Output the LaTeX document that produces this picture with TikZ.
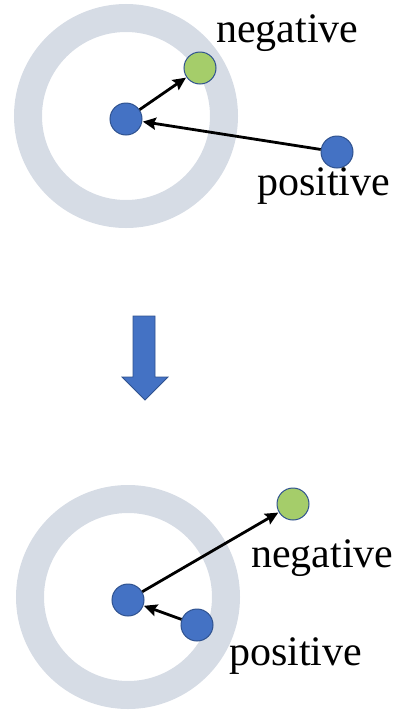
\documentclass[tikz,border=0pt]{standalone}
\usepackage{fontspec}
\setmainfont{Liberation Serif}
\usetikzlibrary{arrows.meta}
\definecolor{ringc}{HTML}{D6DCE5}
\definecolor{blu}{HTML}{4472C4}
\definecolor{bluedge}{HTML}{2F528F}
\definecolor{grn}{HTML}{A5CD6A}
\tikzset{
  ring/.style={draw=ringc, line width=28pt},
  bluedot/.style={circle, minimum size=32pt, inner sep=0pt, fill=blu, draw=bluedge, line width=1pt},
  greendot/.style={circle, minimum size=32pt, inner sep=0pt, fill=grn, draw=bluedge, line width=1pt},
  lbl/.style={font=\fontsize{42}{50}\selectfont, inner sep=0pt, anchor=base west},
  conn/.style={line width=2.8pt, -{Stealth[length=13pt,width=12pt,inset=2pt]}, shorten >=0.5pt}
}
\begin{document}
\begin{tikzpicture}[x=1pt,y=-1pt]
\useasboundingbox (0,0) rectangle (402,710);
% top
\coordinate (c1) at (126,116);
\draw[ring] (c1) circle (98);
\node[bluedot] (a1) at (126,119) {};
\node[greendot] (n1) at (200,68) {};
\node[bluedot] (p1) at (337,152) {};
\draw[conn] (a1) -- (n1);
\draw[conn] (p1) -- (a1);
\node[lbl] (tn1) at (216,42) {negative};
\node[lbl] (tp1) at (257,195) {positive};
% middle arrow
\draw[fill=blu, draw=bluedge, line width=0.8pt] (133,316) -- (155,316) -- (155,377) -- (168,377) -- (145,400) -- (122,377) -- (133,377) -- cycle;
% bottom
\coordinate (c2) at (128,597);
\draw[ring] (c2) circle (98);
\node[bluedot] (a2) at (128,600) {};
\node[bluedot] (p2) at (197,625) {};
\node[greendot] (n2) at (293,504) {};
\draw[conn] (a2) -- (n2);
\draw[conn] (p2) -- (a2);
\node[lbl] (tn2) at (251,567) {negative};
\node[lbl] (tp2) at (229,665) {positive};
\end{tikzpicture}
\end{document}
